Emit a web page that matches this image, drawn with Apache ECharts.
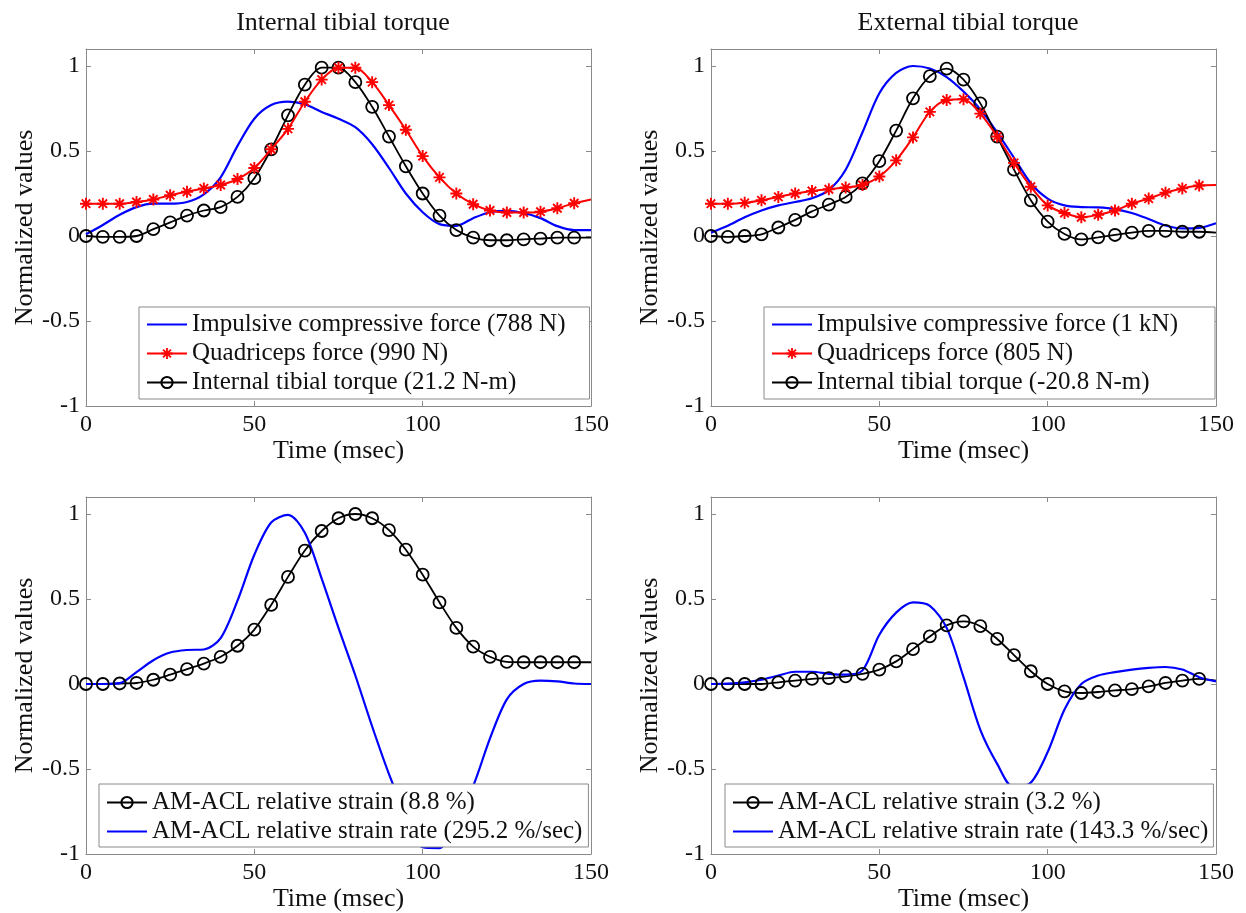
<!DOCTYPE html>
<html><head><meta charset="utf-8">
<script src="https://cdn.jsdelivr.net/npm/echarts@6/dist/echarts.min.js"></script>
<style>html,body{margin:0;padding:0;background:#fff}#c{width:1246px;height:913px}</style>
</head><body><div id="c"></div>
<script>
// ---------- data ----------
const time = [0,5,10,15,20,25,30,35,40,45,50,55,60,65,70,75,80,85,90,95,100,105,110,115,120,125,130,135,140,145,150];
const xTicks = [0,50,100,150];
const yTicks = [-1,-0.5,0,0.5,1];

const titles = ['Internal tibial torque','External tibial torque'];

// Top-left: internal tibial torque
const tlNames = ['Impulsive compressive force (788 N)','Quadriceps force (990 N)','Internal tibial torque (21.2 N-m)'];
const tlCompressive = [0.01,0.065,0.125,0.17,0.19,0.19,0.2,0.245,0.345,0.53,0.69,0.77,0.79,0.775,0.73,0.69,0.64,0.54,0.40,0.25,0.14,0.07,0.06,0.105,0.14,0.148,0.135,0.105,0.058,0.035,0.035];
const tlQuadriceps = [0.19,0.19,0.19,0.2,0.215,0.24,0.26,0.28,0.30,0.335,0.40,0.51,0.63,0.79,0.92,0.99,0.99,0.905,0.77,0.625,0.47,0.345,0.25,0.187,0.15,0.138,0.138,0.143,0.163,0.193,0.215];
const tlTorque = [0,-0.005,-0.005,0,0.04,0.08,0.12,0.15,0.17,0.23,0.34,0.51,0.71,0.89,0.99,0.99,0.905,0.76,0.585,0.41,0.25,0.12,0.035,-0.01,-0.025,-0.025,-0.02,-0.015,-0.01,-0.01,-0.01];

// Top-right: external tibial torque
const trNames = ['Impulsive compressive force (1 kN)','Quadriceps force (805 N)','Internal tibial torque (-20.8 N-m)'];
const trCompressive = [0.02,0.06,0.11,0.15,0.18,0.2,0.222,0.27,0.39,0.61,0.84,0.96,1.0,0.985,0.935,0.85,0.745,0.61,0.46,0.31,0.22,0.18,0.17,0.168,0.158,0.135,0.1,0.062,0.045,0.048,0.075];
const trQuadriceps = [0.19,0.19,0.195,0.21,0.23,0.25,0.265,0.275,0.285,0.30,0.35,0.445,0.58,0.73,0.80,0.805,0.72,0.585,0.43,0.29,0.18,0.135,0.11,0.125,0.15,0.19,0.22,0.255,0.28,0.297,0.30];
const trTorque = [0,-0.005,0,0.01,0.05,0.095,0.145,0.185,0.23,0.31,0.44,0.62,0.81,0.94,0.985,0.92,0.78,0.585,0.39,0.21,0.085,0.012,-0.02,-0.008,0.006,0.02,0.03,0.03,0.025,0.025,0.02];

// Bottom-left
const blNames = ['AM-ACL relative strain (8.8 %)','AM-ACL relative strain rate (295.2 %/sec)'];
const blStrain = [0,0,0.003,0.006,0.025,0.055,0.088,0.12,0.16,0.225,0.32,0.465,0.63,0.785,0.9,0.975,1.0,0.975,0.905,0.79,0.643,0.48,0.33,0.22,0.16,0.13,0.128,0.128,0.128,0.128,0.128];
const blRate = [0,0,0.005,0.07,0.14,0.185,0.2,0.203,0.27,0.49,0.76,0.95,0.995,0.89,0.62,0.33,0.05,-0.25,-0.53,-0.77,-0.96,-0.965,-0.8,-0.6,-0.32,-0.09,0.0,0.02,0.015,0.003,0.0];

// Bottom-right
const brNames = ['AM-ACL relative strain (3.2 %)','AM-ACL relative strain rate (143.3 %/sec)'];
const brStrain = [0,0,0,0,0.01,0.02,0.03,0.035,0.045,0.06,0.085,0.133,0.205,0.28,0.345,0.368,0.34,0.265,0.17,0.075,0,-0.043,-0.053,-0.047,-0.038,-0.03,-0.014,0.006,0.02,0.03,0.02];
const brRate = [0,0.002,0.01,0.025,0.05,0.072,0.072,0.06,0.055,0.08,0.29,0.42,0.48,0.46,0.33,0.04,-0.27,-0.47,-0.61,-0.58,-0.40,-0.15,0.0,0.05,0.07,0.085,0.095,0.1,0.085,0.04,0.015];

// ---------- styling ----------
const FONT = '"Liberation Serif","Times New Roman",serif';
const TXT = '#111';
const FRAME = '#8a8a8a';
const BLUE = '#0000ff', RED = '#ff0000', BLACK = '#000000';
const STAR = 'path://M-1.6,-10L1.6,-10L1.6,10L-1.6,10Z M-10,-1.6L10,-1.6L10,1.6L-10,1.6Z M-8.2,-5.94L-5.94,-8.2L8.2,5.94L5.94,8.2Z M5.94,-8.2L8.2,-5.94L-5.94,8.2L-8.2,5.94Z';

const grids = [
  {left:86, top:49, width:505, height:357},
  {left:711, top:49, width:505, height:357},
  {left:86, top:497, width:505, height:357},
  {left:711, top:497, width:505, height:357}
];

const xAxis = [], yAxis = [];
grids.forEach((g, gi) => {
  const line = {show:true, onZero:false, lineStyle:{color:FRAME, width:1}};
  const tick = {show:true, inside:true, length:5, lineStyle:{color:FRAME, width:1}};
  xAxis.push({gridIndex:gi, type:'value', min:0, max:150, interval:50, position:'bottom',
    axisLine:line, axisTick:tick, splitLine:{show:false},
    axisLabel:{margin:7, fontSize:24, color:TXT, fontFamily:FONT},
    name:'Time (msec)', nameLocation:'middle', nameGap:31,
    nameTextStyle:{fontSize:26, color:TXT, fontFamily:FONT}});
  xAxis.push({gridIndex:gi, type:'value', min:0, max:150, interval:50, position:'top',
    axisLine:line, axisTick:tick, splitLine:{show:false}, axisLabel:{show:false}});
  yAxis.push({gridIndex:gi, type:'value', min:-1, max:1.1, position:'left',
    axisLine:line, axisTick:Object.assign({customValues:yTicks}, tick), splitLine:{show:false},
    axisLabel:{customValues:yTicks, margin:6, fontSize:24, color:TXT, fontFamily:FONT},
    name:'Normalized values', nameLocation:'middle', nameGap:41, nameRotate:90,
    nameTextStyle:{fontSize:26, color:TXT, fontFamily:FONT}});
  yAxis.push({gridIndex:gi, type:'value', min:-1, max:1.1, position:'right',
    axisLine:line, axisTick:Object.assign({customValues:yTicks}, tick), splitLine:{show:false},
    axisLabel:{show:false}});
});

function pts(vals, marker) {
  const last = time.length - 1;
  return time.map((t, i) => (marker && i === last) ? {value:[t, vals[i]], symbol:'none'} : [t, vals[i]]);
}
function blueSeries(name, vals, gi) {
  return {name, type:'line', xAxisIndex:gi*2, yAxisIndex:gi*2, data:pts(vals,false),
    smooth:0.3, symbol:'none', lineStyle:{color:BLUE, width:2.2}, itemStyle:{color:BLUE}, z:2};
}
function redSeries(name, vals, gi) {
  return {name, type:'line', xAxisIndex:gi*2, yAxisIndex:gi*2, data:pts(vals,true),
    smooth:0.3, symbol:STAR, symbolSize:12, lineStyle:{color:RED, width:2}, itemStyle:{color:RED}, z:3};
}
function blackSeries(name, vals, gi) {
  return {name, type:'line', xAxisIndex:gi*2, yAxisIndex:gi*2, data:pts(vals,true),
    smooth:0.3, symbol:'circle', symbolSize:12,
    lineStyle:{color:BLACK, width:1.8},
    itemStyle:{color:'rgba(255,255,255,0)', borderColor:BLACK, borderWidth:1.8}, z:2};
}

const series = [
  blueSeries(tlNames[0], tlCompressive, 0),
  blackSeries(tlNames[2], tlTorque, 0),
  redSeries(tlNames[1], tlQuadriceps, 0),
  blueSeries(trNames[0], trCompressive, 1),
  blackSeries(trNames[2], trTorque, 1),
  redSeries(trNames[1], trQuadriceps, 1),
  blackSeries(blNames[0], blStrain, 2),
  blueSeries(blNames[1], blRate, 2),
  blackSeries(brNames[0], brStrain, 3),
  blueSeries(brNames[1], brRate, 3)
];

// blue (marker-less) entries: line only in the legend
const lineOnly = {itemStyle:{color:'rgba(0,0,0,0)', borderWidth:0, opacity:0}};
function legend(items, left, top, padding) {
  return {data:items, orient:'vertical', left, top, padding, itemGap:4,
    itemWidth:40, itemHeight:14, selectedMode:false,
    backgroundColor:'#fff', borderColor:FRAME, borderWidth:1,
    textStyle:{fontSize:25, lineHeight:25, color:TXT, fontFamily:FONT}, z:5};
}

const option = {
  animation:false,
  backgroundColor:'#fff',
  title:[
    {text:titles[0], left:338, top:5, textAlign:'center', textStyle:{fontSize:26, fontWeight:'normal', color:TXT, fontFamily:FONT}},
    {text:titles[1], left:963, top:5, textAlign:'center', textStyle:{fontSize:26, fontWeight:'normal', color:TXT, fontFamily:FONT}}
  ],
  grid:grids,
  xAxis, yAxis,
  legend:[
    legend([Object.assign({name:tlNames[0]}, lineOnly), tlNames[1], tlNames[2]], 139, 307, [5,24,4,7]),
    legend([Object.assign({name:trNames[0]}, lineOnly), trNames[1], trNames[2]], 764, 307, [5,37,4,7]),
    legend([blNames[0], Object.assign({name:blNames[1]}, lineOnly)], 99, 784, [6,6,3,7]),
    legend([brNames[0], Object.assign({name:brNames[1]}, lineOnly)], 725, 784, [6,5,3,7])
  ],
  series
};

const chart = echarts.init(document.getElementById('c'), null, {renderer:'canvas'});
chart.setOption(option);
</script>
</body></html>
